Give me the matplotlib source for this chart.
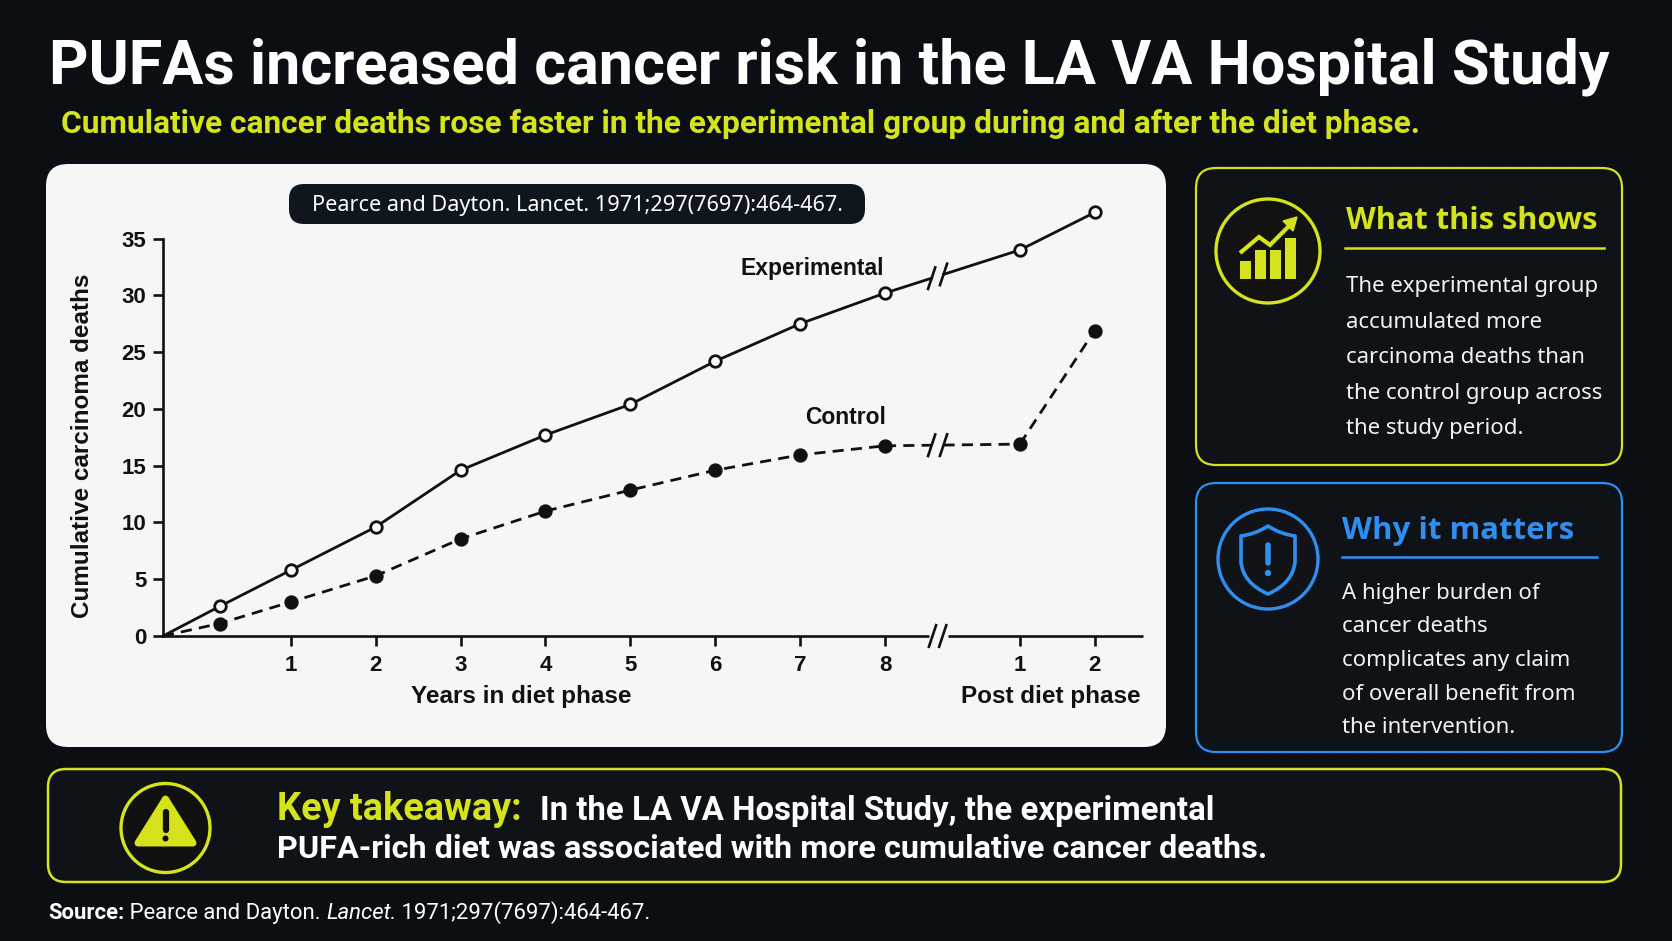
import numpy as np
import matplotlib
matplotlib.use('Agg')
import matplotlib.pyplot as plt
from matplotlib.patches import FancyBboxPatch, Circle, Polygon, Rectangle, PathPatch
from matplotlib.path import Path

### DATA ###
diet_years = [0.16, 1, 2, 3, 4, 5, 6, 7, 8]     # first point sits just after start
exp_diet = [2.6, 5.8, 9.6, 14.6, 17.7, 20.4, 24.2, 27.5, 30.2]
ctrl_diet = [1.1, 3.0, 5.3, 8.55, 11.0, 12.85, 14.6, 15.95, 16.75]
post_years = [1, 2]
exp_post = [34.0, 37.3]
ctrl_post = [16.9, 26.9]
start_deaths = 0
y_ticks = [0, 5, 10, 15, 20, 25, 30, 35]
diet_ticks = [1, 2, 3, 4, 5, 6, 7, 8]

title = 'PUFAs increased cancer risk in the LA VA Hospital Study'
subtitle = 'Cumulative cancer deaths rose faster in the experimental group during and after the diet phase.'
citation = 'Pearce and Dayton. Lancet. 1971;297(7697):464-467.'
box1_head = 'What this shows'
box1_lines = ['The experimental group', 'accumulated more', 'carcinoma deaths than',
              'the control group across', 'the study period.']
box2_head = 'Why it matters'
box2_lines = ['A higher burden of', 'cancer deaths', 'complicates any claim',
              'of overall benefit from', 'the intervention.']
key_lbl = 'Key takeaway:'
key_l1 = 'In the LA VA Hospital Study, the experimental'
key_l2 = 'PUFA-rich diet was associated with more cumulative cancer deaths.'

### STYLE ###
W, H = 1672, 941
BG = '#0b0e13'
BOXBG = '#0f1217'
LIME = '#d4e31b'
BLUE = '#2f8ff0'
INK = '#111111'
PANEL = '#f6f6f6'
NARROW = ['Liberation Sans Narrow', 'Roboto', 'DejaVu Sans']
BODY = ['Noto Sans', 'DejaVu Sans']
HEAD = ['Open Sans', 'Roboto', 'DejaVu Sans']
CHART = ['Liberation Sans', 'DejaVu Sans']

fig = plt.figure(figsize=(W / 100, H / 100), dpi=100, facecolor=BG)
bg = fig.add_axes([0, 0, 1, 1])
bg.set_xlim(0, W)
bg.set_ylim(H, 0)
bg.axis('off')
bg.set_zorder(0)

rend = fig.canvas.get_renderer()

def width_of(t):
    return t.get_window_extent(rend).width

def fit(t, target):
    for _ in range(2):
        t.set_fontsize(t.get_fontsize() * target / width_of(t))
    return t

def rbox(x0, y0, x1, y1, r, fc, ec='none', lw=0, z=1):
    p = FancyBboxPatch((x0, y0), x1 - x0, y1 - y0, boxstyle=f'round,pad=0,rounding_size={r}',
                       fc=fc, ec=ec, lw=lw, zorder=z)
    bg.add_patch(p)

# faint dot grid in the background
gx, gy = np.meshgrid(np.arange(10, W, 22), np.arange(10, H, 22))
bg.scatter(gx.ravel(), gy.ravel(), s=0.6, color='#1a1f27', zorder=0, lw=0)

### HEADER ###
t = bg.text(49, 83, title, color='white', fontsize=40, fontweight='bold', family=NARROW, va='baseline')
fit(t, 1563)
t = bg.text(61, 133, subtitle, color=LIME, fontsize=22, fontweight='bold', family=NARROW, va='baseline')
fit(t, 1361)

### CHART PANEL ###
rbox(46, 164, 1166, 747, 22, PANEL, z=1)
rbox(289, 184, 865, 224, 15, '#10161d', z=2)
t = bg.text(577, 205, citation, color='white', fontsize=14, family=BODY, ha='center', va='center', zorder=3)
fit(t, 531)

XMIN, XMAX = -0.506, 11.04
BREAK_X = 8.62
GAP = 0.07
POST_X0, POST_STEP = 9.59, 0.88
post_x = [POST_X0 + (p - 1) * POST_STEP for p in post_years]

AX_L, AX_R, AX_T, AX_B = 163, 1143, 238.6, 636
ax = fig.add_axes([AX_L / W, 1 - AX_B / H, (AX_R - AX_L) / W, (AX_B - AX_T) / H])
ax.set_zorder(2)
ax.patch.set_alpha(0)
ax.set_xlim(XMIN, XMAX)
ax.set_ylim(0, 35)
for s in ['top', 'right', 'bottom']:
    ax.spines[s].set_visible(False)
ax.spines['left'].set_linewidth(1.9)
ax.spines['left'].set_color(INK)

px_x = (AX_R - AX_L) / (XMAX - XMIN)
px_y = (AX_B - AX_T) / 35.0

def slash(x, y, lw=1.9):
    dx, dy = 4 / px_x, 12 / px_y
    ax.plot([x - dx, x + dx], [y - dy, y + dy], color=INK, lw=lw, clip_on=False, zorder=5,
            solid_capstyle='butt')

# x axis drawn in two pieces with a break
ax.plot([XMIN, BREAK_X - GAP - 0.03], [0, 0], color=INK, lw=1.9, clip_on=False, solid_capstyle='butt')
ax.plot([BREAK_X + GAP + 0.05, XMAX], [0, 0], color=INK, lw=1.9, clip_on=False, solid_capstyle='butt')
slash(BREAK_X - 0.06, 0)
slash(BREAK_X + 0.06, 0)

def series(diet, post, ls, mfc):
    kw = dict(color=INK, lw=2.0, ls=ls, clip_on=False, zorder=3)
    ax.plot([XMIN] + diet_years, [start_deaths] + diet, **kw)
    xs = [8, BREAK_X - GAP, BREAK_X + GAP, post_x[0]]
    ys = np.interp(xs, [8, post_x[0]], [diet[-1], post[0]])
    ax.plot(xs[:2], ys[:2], **kw)
    ax.plot(xs[2:], ys[2:], **kw)
    slash(xs[1], ys[1])
    slash(xs[2], ys[2])
    ax.plot(post_x, post, **kw)
    ax.plot(diet_years + post_x, diet + post, 'o', ms=8.3, mfc=mfc, mec=INK, mew=2.0,
            clip_on=False, zorder=4)

series(exp_diet, exp_post, '-', 'white')
series(ctrl_diet, ctrl_post, (0, (4, 2.6)), INK)

ax.set_yticks(y_ticks)
ax.set_yticklabels([str(v) for v in y_ticks], fontsize=16, fontweight='bold', family=CHART)
ax.set_xticks(diet_ticks + post_x)
ax.set_xticklabels([str(v) for v in diet_ticks] + [str(v) for v in post_years],
                   fontsize=16, fontweight='bold', family=CHART)
ax.tick_params(axis='both', direction='out', length=7, width=1.9, color=INK, labelcolor=INK)
ax.tick_params(axis='x', pad=7)
ax.tick_params(axis='y', pad=5)

ax.text(7.14, 32.4, 'Experimental', fontsize=16.5, fontweight='bold', family=CHART,
        ha='center', va='center', color=INK)
ax.text(7.54, 19.2, 'Control', fontsize=16.5, fontweight='bold', family=CHART,
        ha='center', va='center', color=INK)

bg.text(521, 697, 'Years in diet phase', fontsize=17.5, fontweight='bold', family=CHART,
        ha='center', va='center', color=INK, zorder=3)
bg.text(1051, 697, 'Post diet phase', fontsize=17.5, fontweight='bold', family=CHART,
        ha='center', va='center', color=INK, zorder=3)
bg.text(83, 446, 'Cumulative carcinoma deaths', fontsize=17.5, fontweight='bold', family=CHART,
        ha='center', va='center', rotation=90, color=INK, zorder=3)

### SIDE BOXES ###
rbox(1196, 168, 1622, 465, 20, BOXBG, LIME, 1.6, z=1)
rbox(1196, 483, 1622, 752, 20, BOXBG, BLUE, 1.6, z=1)

# chart icon
bg.add_patch(Circle((1268, 251), 52, fc='#121212', ec=LIME, lw=2.4, zorder=2))
for bx, top in zip([1240, 1255, 1270, 1285], [261, 250, 250, 238]):
    bg.add_patch(Rectangle((bx, top), 11, 279 - top, fc=LIME, ec='none', zorder=3))
bg.plot([1240, 1259, 1270, 1289], [253, 237, 245, 226], color=LIME, lw=3, zorder=3,
        solid_joinstyle='miter', solid_capstyle='butt')
bg.add_patch(Polygon([[1297, 217], [1283, 221], [1293, 231]], closed=True, fc=LIME, ec=LIME,
                     lw=1, zorder=3))

# shield icon
bg.add_patch(Circle((1268, 559), 50, fc='#111318', ec=BLUE, lw=2.4, zorder=2))
verts = [(1268, 526), (1256, 534), (1241, 536), (1241, 562), (1243, 583), (1268, 594),
         (1293, 583), (1295, 562), (1295, 536), (1280, 534), (1268, 526), (1268, 526)]
codes = [Path.MOVETO, Path.CURVE3, Path.CURVE3, Path.LINETO, Path.CURVE3, Path.CURVE3,
         Path.CURVE3, Path.CURVE3, Path.LINETO, Path.CURVE3, Path.CURVE3, Path.CLOSEPOLY]
bg.add_patch(PathPatch(Path(verts, codes), fc='none', ec=BLUE, lw=2.6, zorder=3, joinstyle='round'))
bg.plot([1268, 1268], [545, 563], color=BLUE, lw=4, solid_capstyle='round', zorder=3)
bg.add_patch(Circle((1268, 573), 3.2, fc=BLUE, ec='none', zorder=3))

t = bg.text(1346, 229, box1_head, color=LIME, fontsize=20, fontweight='bold', family=HEAD, va='baseline')
fit(t, 252)
bg.plot([1345, 1604], [248, 248], color=LIME, lw=1.8, zorder=2)
t = bg.text(1342, 539, box2_head, color=BLUE, fontsize=20, fontweight='bold', family=HEAD, va='baseline')
fit(t, 231)
bg.plot([1342, 1597], [557, 557], color=BLUE, lw=1.8, zorder=2)

probe = bg.text(0, 0, box1_lines[3], fontsize=15, family=BODY)
fit(probe, 257)
body_fs = probe.get_fontsize()
probe.remove()
for i, line in enumerate(box1_lines):
    bg.text(1346, 292 + i * 35.5, line, color='#f2f2f2', fontsize=body_fs, family=BODY, va='baseline')
for i, line in enumerate(box2_lines):
    bg.text(1342, 599 + i * 33.5, line, color='#f2f2f2', fontsize=body_fs, family=BODY, va='baseline')

### KEY TAKEAWAY ###
rbox(48, 769, 1621, 882, 18, BOXBG, LIME, 1.8, z=1)
bg.add_patch(Circle((165.5, 828), 44.5, fc='#111111', ec=LIME, lw=2.4, zorder=2))
bg.add_patch(Polygon([[165.5, 799], [138, 843], [193, 843]], closed=True, fc=LIME, ec=LIME,
                     lw=5, joinstyle='round', zorder=3))
bg.plot([165.5, 165.5], [812, 830], color='#111111', lw=4.5, solid_capstyle='round', zorder=4)
bg.add_patch(Circle((165.5, 838.5), 3, fc='#111111', ec='none', zorder=4))

t2 = bg.text(277, 858, key_l2, color='white', fontsize=22, fontweight='bold', family=NARROW, va='baseline')
fit(t2, 989)
tk = bg.text(277, 820, key_lbl, color=LIME, fontsize=26, fontweight='bold', family=NARROW, va='baseline')
fit(tk, 245)
rest_x = 277 + width_of(tk) + 18
t1 = bg.text(rest_x, 820, key_l1, color='white', fontsize=t2.get_fontsize(),
             fontweight='bold', family=NARROW, va='baseline')
fit(t1, 1212 - rest_x)

### SOURCE ###
runs = [('Source:', 'bold', 'normal'), (' Pearce and Dayton. ', 'normal', 'normal'),
        ('Lancet.', 'normal', 'italic'), (' 1971;297(7697):464-467.', 'normal', 'normal')]
fs = 16
objs = []
for txt, wt, st in runs:
    objs.append(bg.text(0, 919, txt, color='white', fontsize=fs, fontweight=wt, fontstyle=st,
                        family=NARROW, va='baseline'))
total = sum(width_of(o) for o in objs)
x = 48
for o in objs:
    o.set_fontsize(fs * 604 / total)
for o in objs:
    o.set_x(x)
    x += width_of(o)

fig.savefig('out.png', dpi=100, facecolor=BG)
